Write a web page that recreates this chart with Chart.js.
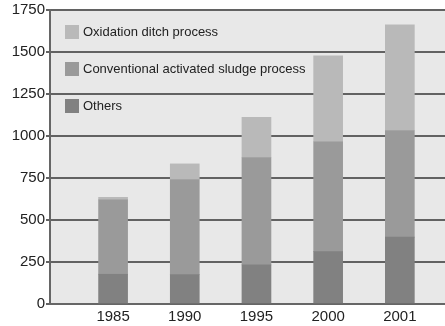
<!DOCTYPE html>
<html>
<head>
<meta charset="utf-8">
<script src="https://cdn.jsdelivr.net/npm/chart.js@4"></script>
<style>
  html, body { margin: 0; padding: 0; background: #fff; }
  #wrap { width: 445px; height: 326px; }
</style>
</head>
<body>
<div id="wrap"><canvas id="chart" width="445" height="326"></canvas></div>
<script>
// treatment plants by process, per year
const years = ['1985', '1990', '1995', '2000', '2001'];
const others = [177, 175, 233, 312, 398];
const conventional = [443, 566, 639, 654, 635];
const oxidation = [15, 93, 239, 511, 629];
const yTicks = [0, 250, 500, 750, 1000, 1250, 1500, 1750];

const ctx = document.getElementById('chart').getContext('2d');

// plot background
const plotBg = {
  id: 'plotBg',
  beforeDraw(chart) {
    const a = chart.chartArea;
    const c = chart.ctx;
    c.save();
    c.fillStyle = '#e8e8e8';
    c.fillRect(a.left, a.top, a.right - a.left, a.bottom - a.top);
    c.restore();
  }
};

// legend inside plot, top left, top item = top of stack
const insideLegend = {
  id: 'insideLegend',
  afterDatasetsDraw(chart) {
    const a = chart.chartArea;
    const c = chart.ctx;
    const sets = chart.data.datasets.slice().reverse();
    c.save();
    c.font = '13px "Liberation Sans Narrow", "Liberation Sans", Arial, sans-serif';
    c.textBaseline = 'middle';
    sets.forEach((ds, i) => {
      const y = a.top + 22 + i * 37;
      c.fillStyle = ds.backgroundColor;
      c.fillRect(a.left + 15, y - 7, 14, 14);
      c.fillStyle = '#222';
      c.fillText(ds.label, a.left + 33, y);
    });
    c.restore();
  }
};

const chart = new Chart(ctx, {
  type: 'bar',
  data: {
    datasets: [
      { label: 'Others', data: others.map((v, i) => ({ x: i, y: v })), backgroundColor: '#818181' },
      { label: 'Conventional activated sludge process', data: conventional.map((v, i) => ({ x: i, y: v })), backgroundColor: '#9a9a9a' },
      { label: 'Oxidation ditch process', data: oxidation.map((v, i) => ({ x: i, y: v })), backgroundColor: '#b9b9b9' }
    ]
  },
  options: {
    responsive: false,
    animation: false,
    barThickness: 29,
    layout: { padding: { top: 3, right: 0, left: 0, bottom: 0 } },
    plugins: { legend: { display: false }, tooltip: { enabled: false } },
    scales: {
      x: {
        type: 'linear',
        stacked: true,
        offset: false,
        min: -0.88,
        max: 4.63,
        afterBuildTicks: axis => { axis.ticks = years.map((_, i) => ({ value: i })); },
        afterFit: axis => { axis.height = 22; },
        grid: { display: false, drawTicks: false },
        border: { color: '#666', width: 2 },
        ticks: {
          callback: v => years[v],
          color: '#222',
          padding: 4,
          maxRotation: 0,
          font: { family: '"Liberation Sans", Arial, sans-serif', size: 15 }
        }
      },
      y: {
        stacked: true,
        min: 0,
        max: 1750,
        afterBuildTicks: axis => { axis.ticks = yTicks.map(v => ({ value: v })); },
        afterFit: axis => { axis.width = 50; },
        grid: { color: '#626262', lineWidth: 2, tickLength: 4 },
        border: { color: '#666', width: 2 },
        ticks: {
          callback: v => String(v),
          color: '#222',
          padding: 1,
          font: { family: '"Liberation Sans", Arial, sans-serif', size: 15 }
        }
      }
    }
  },
  plugins: [plotBg, insideLegend]
});
</script>
</body>
</html>
